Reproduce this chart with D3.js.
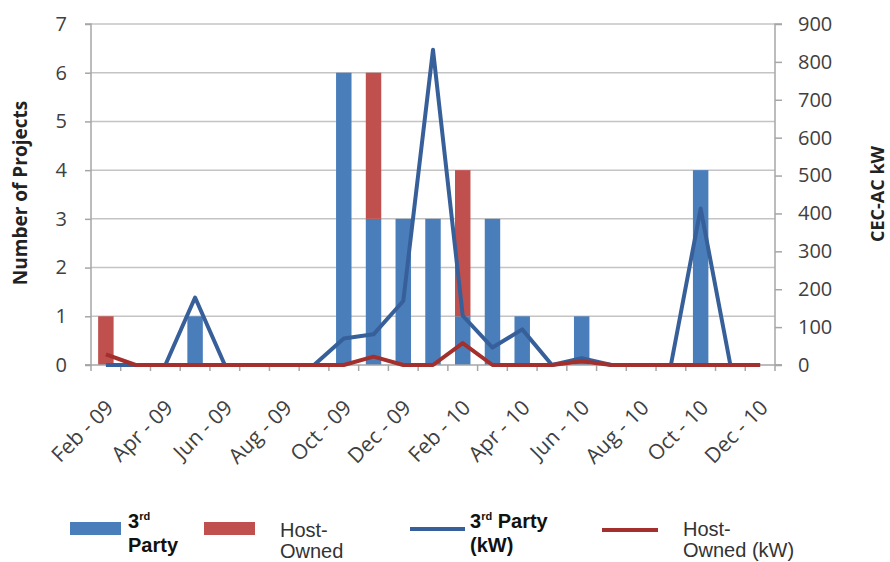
<!DOCTYPE html>
<html>
<head>
<meta charset="utf-8">
<script src="https://cdn.jsdelivr.net/npm/d3@7"></script>
<style>
  body { margin: 0; background: #fff; }
  svg { display: block; }
</style>
</head>
<body>
<svg id="chart" width="890" height="562"></svg>
<script>
// ---- data ----
const months = ["Feb - 09","Mar - 09","Apr - 09","May - 09","Jun - 09","Jul - 09","Aug - 09","Sep - 09","Oct - 09","Nov - 09","Dec - 09","Jan - 10",
                "Feb - 10","Mar - 10","Apr - 10","May - 10","Jun - 10","Jul - 10","Aug - 10","Sep - 10","Oct - 10","Nov - 10","Dec - 10"];
const thirdParty   = [0,0,0,1,0,0,0,0,6,3,3,3,1,3,1,0,1,0,0,0,4,0,0];
const hostOwned    = [1,0,0,0,0,0,0,0,0,3,0,0,3,0,0,0,0,0,0,0,0,0,0];
const thirdPartyKW = [0,0,0,178,0,0,0,0,70,81,169,832,130,46,94,0,18,0,0,0,413,0,0];
const hostOwnedKW  = [28,0,0,0,0,0,0,0,0,22,0,0,58,0,0,0,10,0,0,0,0,0,0];
const leftTicks  = [0,1,2,3,4,5,6,7];
const rightTicks = [0,100,200,300,400,500,600,700,800,900];
const shownLabels = months.filter((d,i) => i % 2 === 0);

// ---- layout ----
const svg = d3.select("#chart");
const L = 91, R = 775, T = 24, B = 365;
const tickFont = "'Open Sans', sans-serif";
const tickColor = "#404040";
const axisGray = "#a6a6a6";

const x = d3.scaleBand().domain(months).range([L, R]).paddingInner(0.48).paddingOuter(0.24);
const yL = d3.scaleLinear().domain([0, 7]).range([B, T]);
const yR = d3.scaleLinear().domain([0, 900]).range([B, T]);

// gridlines
svg.append("g").selectAll("line").data(leftTicks.filter(d => d > 0)).join("line")
  .attr("x1", L).attr("x2", R)
  .attr("y1", d => yL(d)).attr("y2", d => yL(d))
  .attr("stroke", "#c4c4c4").attr("stroke-width", 1.5);

// bars (stacked)
const cx = d => x(d) + x.bandwidth() / 2;
const barG = svg.append("g");
barG.selectAll("rect.tp").data(months).join("rect")
  .attr("x", d => x(d)).attr("width", x.bandwidth())
  .attr("y", (d,i) => yL(thirdParty[i]))
  .attr("height", (d,i) => yL(0) - yL(thirdParty[i]))
  .attr("fill", "#4a7ebb");
barG.selectAll("rect.ho").data(months).join("rect")
  .attr("x", d => x(d)).attr("width", x.bandwidth())
  .attr("y", (d,i) => yL(thirdParty[i] + hostOwned[i]))
  .attr("height", (d,i) => yL(thirdParty[i]) - yL(thirdParty[i] + hostOwned[i]))
  .attr("fill", "#c0504d");

// left axis
const gL = svg.append("g").attr("transform", `translate(${L},0)`)
  .call(d3.axisLeft(yL).tickValues(leftTicks).tickSize(6).tickPadding(18).tickFormat(d3.format("d")));
gL.select(".domain").attr("stroke", axisGray).attr("stroke-width", 1.5).attr("d", `M-6,${T}H0V${B}H-6`);
gL.selectAll(".tick line").attr("stroke", axisGray).attr("stroke-width", 1.5);
gL.selectAll(".tick text").attr("font-family", tickFont).attr("font-size", 20).attr("fill", tickColor);

// right axis
const gR = svg.append("g").attr("transform", `translate(${R},0)`)
  .call(d3.axisRight(yR).tickValues(rightTicks).tickSize(7).tickPadding(16));
gR.select(".domain").attr("stroke", axisGray).attr("stroke-width", 1.5).attr("d", `M7,${T}H0V${B}H7`);
gR.selectAll(".tick line").attr("stroke", axisGray).attr("stroke-width", 1.5);
gR.selectAll(".tick text").attr("font-family", tickFont).attr("font-size", 20).attr("fill", tickColor);

// x axis line + ticks at band boundaries
const xg = svg.append("g");
xg.append("line").attr("x1", L - 6).attr("x2", R + 7).attr("y1", B).attr("y2", B)
  .attr("stroke", axisGray).attr("stroke-width", 1.5);
const boundaries = months.map(d => x(d) - x.step() * x.paddingInner() / 2).concat([R]);
xg.selectAll("line.t").data(boundaries).join("line")
  .attr("x1", d => d).attr("x2", d => d).attr("y1", B).attr("y2", B + 6)
  .attr("stroke", axisGray).attr("stroke-width", 1.5);
xg.selectAll("text").data(shownLabels).join("text")
  .attr("transform", d => `translate(${cx(d) + 9},${B + 44}) rotate(-45)`)
  .attr("text-anchor", "end")
  .attr("font-family", tickFont).attr("font-size", 21).attr("fill", tickColor)
  .text(d => d);

// lines
const lineTP = d3.line().x((d,i) => cx(months[i])).y(d => yR(d));
svg.append("path").datum(thirdPartyKW).attr("d", lineTP)
  .attr("fill", "none").attr("stroke", "#37609a").attr("stroke-width", 4).attr("stroke-linejoin", "round");
svg.append("path").datum(hostOwnedKW).attr("d", lineTP)
  .attr("fill", "none").attr("stroke", "#a3302c").attr("stroke-width", 4).attr("stroke-linejoin", "round");

// axis titles
svg.append("text").attr("transform", "translate(27,193) rotate(-90)")
  .attr("text-anchor", "middle").attr("font-family", tickFont).attr("font-weight", "bold")
  .attr("font-size", 19).attr("fill", "#222").text("Number of Projects");
svg.append("text").attr("transform", "translate(884,194) rotate(-90)")
  .attr("text-anchor", "middle").attr("font-family", tickFont).attr("font-weight", "bold")
  .attr("font-size", 18).attr("fill", "#222").text("CEC-AC kW");

// legend
const lg = svg.append("g").attr("font-family", "'Liberation Sans', Arial, sans-serif");
lg.append("rect").attr("x", 70).attr("y", 522).attr("width", 51).attr("height", 13).attr("fill", "#4a7ebb");
lg.append("rect").attr("x", 204).attr("y", 522).attr("width", 51).attr("height", 13).attr("fill", "#c0504d");
lg.append("line").attr("x1", 410).attr("x2", 465).attr("y1", 529).attr("y2", 529)
  .attr("stroke", "#37609a").attr("stroke-width", 4);
lg.append("line").attr("x1", 602).attr("x2", 658).attr("y1", 530).attr("y2", 530)
  .attr("stroke", "#a3302c").attr("stroke-width", 4);

function sup3(t, x0, y0) {
  t.append("tspan").attr("x", x0).attr("y", y0).text("3");
  t.append("tspan").attr("font-size", 11).attr("dy", -8).text("rd");
}
const t1 = lg.append("text").attr("font-weight", "bold").attr("font-size", 20).attr("fill", "#111");
sup3(t1, 128, 528);
t1.append("tspan").attr("x", 128).attr("y", 552).text("Party");

const t2 = lg.append("text").attr("font-size", 20).attr("fill", "#333");
t2.append("tspan").attr("x", 280).attr("y", 537).text("Host-");
t2.append("tspan").attr("x", 280).attr("y", 558).text("Owned");

const t3 = lg.append("text").attr("font-weight", "bold").attr("font-size", 20).attr("fill", "#111");
sup3(t3, 470, 528);
t3.append("tspan").attr("dy", 8).text(" Party");
t3.append("tspan").attr("x", 470).attr("y", 552).text("(kW)");

const t4 = lg.append("text").attr("font-size", 20).attr("fill", "#333");
t4.append("tspan").attr("x", 683).attr("y", 536).text("Host-");
t4.append("tspan").attr("x", 683).attr("y", 557).text("Owned (kW)");
</script>
</body>
</html>
